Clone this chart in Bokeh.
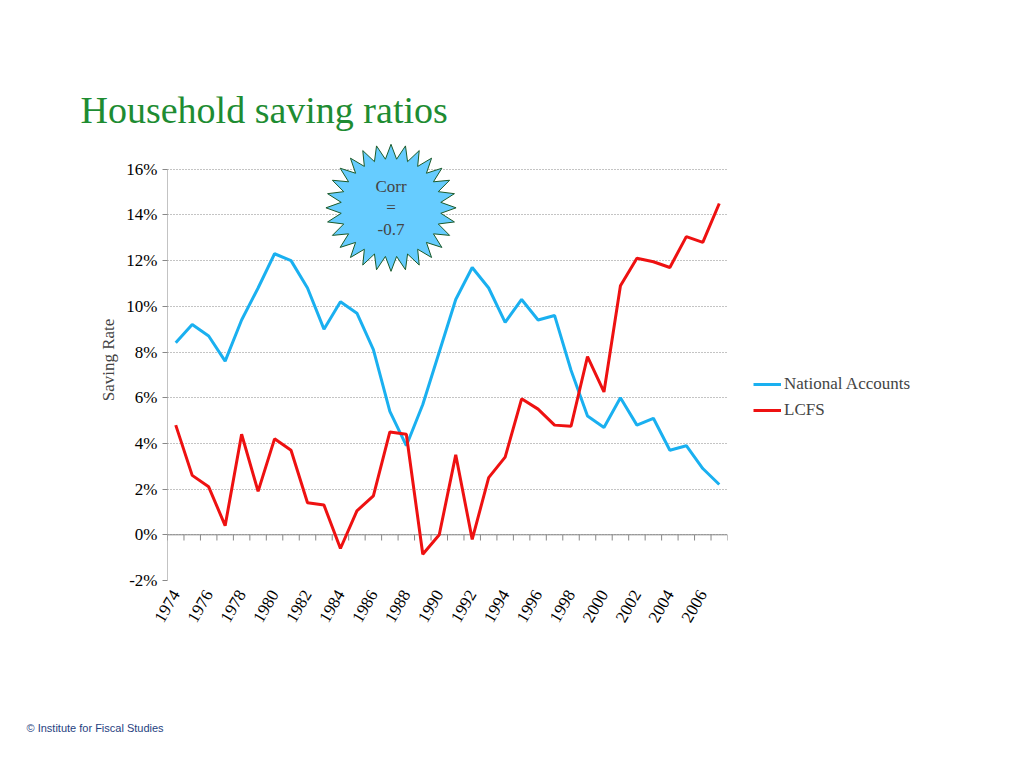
import numpy as np
from bokeh.plotting import figure
from bokeh.models import Range1d, Legend, LegendItem, Label, FixedTicker, Span, CustomJSTickFormatter, Title
from bokeh.embed import file_html
from bokeh.resources import INLINE

years = list(range(1974, 2008))
national = [8.4, 9.2, 8.7, 7.6, 9.4, 10.8, 12.3, 12.0, 10.8, 9.0, 10.2, 9.7, 8.1, 5.4, 3.9, 5.7,
            8.0, 10.3, 11.7, 10.8, 9.3, 10.3, 9.4, 9.6, 7.2, 5.2, 4.7, 6.0, 4.8, 5.1, 3.7, 3.9, 2.9, 2.2]
lcfs = [4.8, 2.6, 2.1, 0.4, 4.4, 1.9, 4.2, 3.7, 1.4, 1.3, -0.6, 1.05, 1.7, 4.5, 4.4, -0.85,
        0.0, 3.5, -0.2, 2.5, 3.4, 5.95, 5.5, 4.8, 4.75, 7.8, 6.25, 10.9, 12.1, 11.95, 11.7, 13.05, 12.8, 14.5]
y_ticks = [-2, 0, 2, 4, 6, 8, 10, 12, 14, 16]
x_label_years = list(range(1974, 2008, 2))

serif = "Liberation Serif"
p = figure(frame_width=560, frame_height=441, output_backend="svg", toolbar_location=None,
           x_range=Range1d(1973.5, 2007.5), y_range=Range1d(-2, 17.3),
           min_border_left=167, min_border_right=10, min_border_top=139, min_border_bottom=10)
p.outline_line_color = None
p.xgrid.grid_line_color = None
p.ygrid.grid_line_color = "#888888"
p.ygrid.grid_line_dash = "1 2"
p.yaxis.ticker = FixedTicker(ticks=y_ticks)
p.yaxis.formatter = CustomJSTickFormatter(code="return tick + '%';")
p.yaxis.major_label_text_font = serif
p.yaxis.major_label_text_font_size = "17px"
p.yaxis.major_label_text_color = "black"
p.yaxis.axis_line_color = None
p.yaxis.major_tick_line_color = "#888888"
p.yaxis.major_tick_in = 0
p.yaxis.major_tick_out = 5
p.yaxis.minor_tick_line_color = None
p.yaxis.axis_label = "Saving Rate"
p.yaxis.axis_label_text_font = serif
p.yaxis.axis_label_text_font_style = "normal"
p.yaxis.axis_label_text_font_size = "17px"

p.xaxis.ticker = FixedTicker(ticks=x_label_years)
p.xaxis.major_label_orientation = np.pi / 3
p.xaxis.major_label_text_font = serif
p.xaxis.major_label_text_font_size = "17px"
p.xaxis.major_label_text_color = "black"
p.xaxis.axis_line_color = None
p.xaxis.major_tick_line_color = None
p.xaxis.minor_tick_line_color = None

x0 = years[0] - 0.5
p.segment(x0=[x0], x1=[x0], y0=[y_ticks[0]], y1=[y_ticks[-1]], line_color="#888888")
p.segment(x0=[x0], x1=[years[-1] + 0.5], y0=[0], y1=[0], line_color="#888888")
tx = [y - 0.5 for y in years] + [years[-1] + 0.5]
p.segment(x0=tx, x1=tx, y0=[0] * len(tx), y1=[-0.25] * len(tx), line_color="#888888")

r1 = p.line(years, national, line_color="#1AB0F0", line_width=3)
r2 = p.line(years, lcfs, line_color="#EE1111", line_width=3)

# starburst
n = 28
ang = np.linspace(0, 2 * np.pi, 2 * n, endpoint=False) + np.pi / 2
rad = np.where(np.arange(2 * n) % 2 == 0, 1.0, 0.77)
cx, cy = 1987.07, 14.31
p.patch(cx + 3.95 * rad * np.cos(ang), cy + 2.78 * rad * np.sin(ang),
        fill_color="#66CCFF", line_color="#1A5A2A", line_width=1)
for t, dy in [("Corr", 0.95), ("=", 0.0), ("-0.7", -0.95)]:
    p.add_layout(Label(x=cx, y=cy + dy, text=t, text_align="center", text_baseline="middle",
                       text_font=serif, text_font_size="17px"))

legend = Legend(items=[LegendItem(label="National Accounts", renderers=[r1]),
                       LegendItem(label="LCFS", renderers=[r2])],
                location=(26, 160), label_text_font=serif, label_text_font_size="17px",
                border_line_color=None, background_fill_alpha=0, spacing=6,
                glyph_width=28, label_standoff=3, padding=0, margin=0)
p.add_layout(legend, "right")

p.add_layout(Title(text="Household saving ratios", align="left", offset=-87, standoff=17,
                   text_font=serif, text_font_size="38px", text_font_style="normal",
                   text_color="#1E8C32"), "above")
p.add_layout(Title(text="© Institute for Fiscal Studies", align="left", offset=-141, standoff=181,
                   text_font="Liberation Sans", text_font_size="11px", text_font_style="normal",
                   text_color="#1F3F7F"), "below")

open("out.html", "w").write(file_html(p, INLINE))
